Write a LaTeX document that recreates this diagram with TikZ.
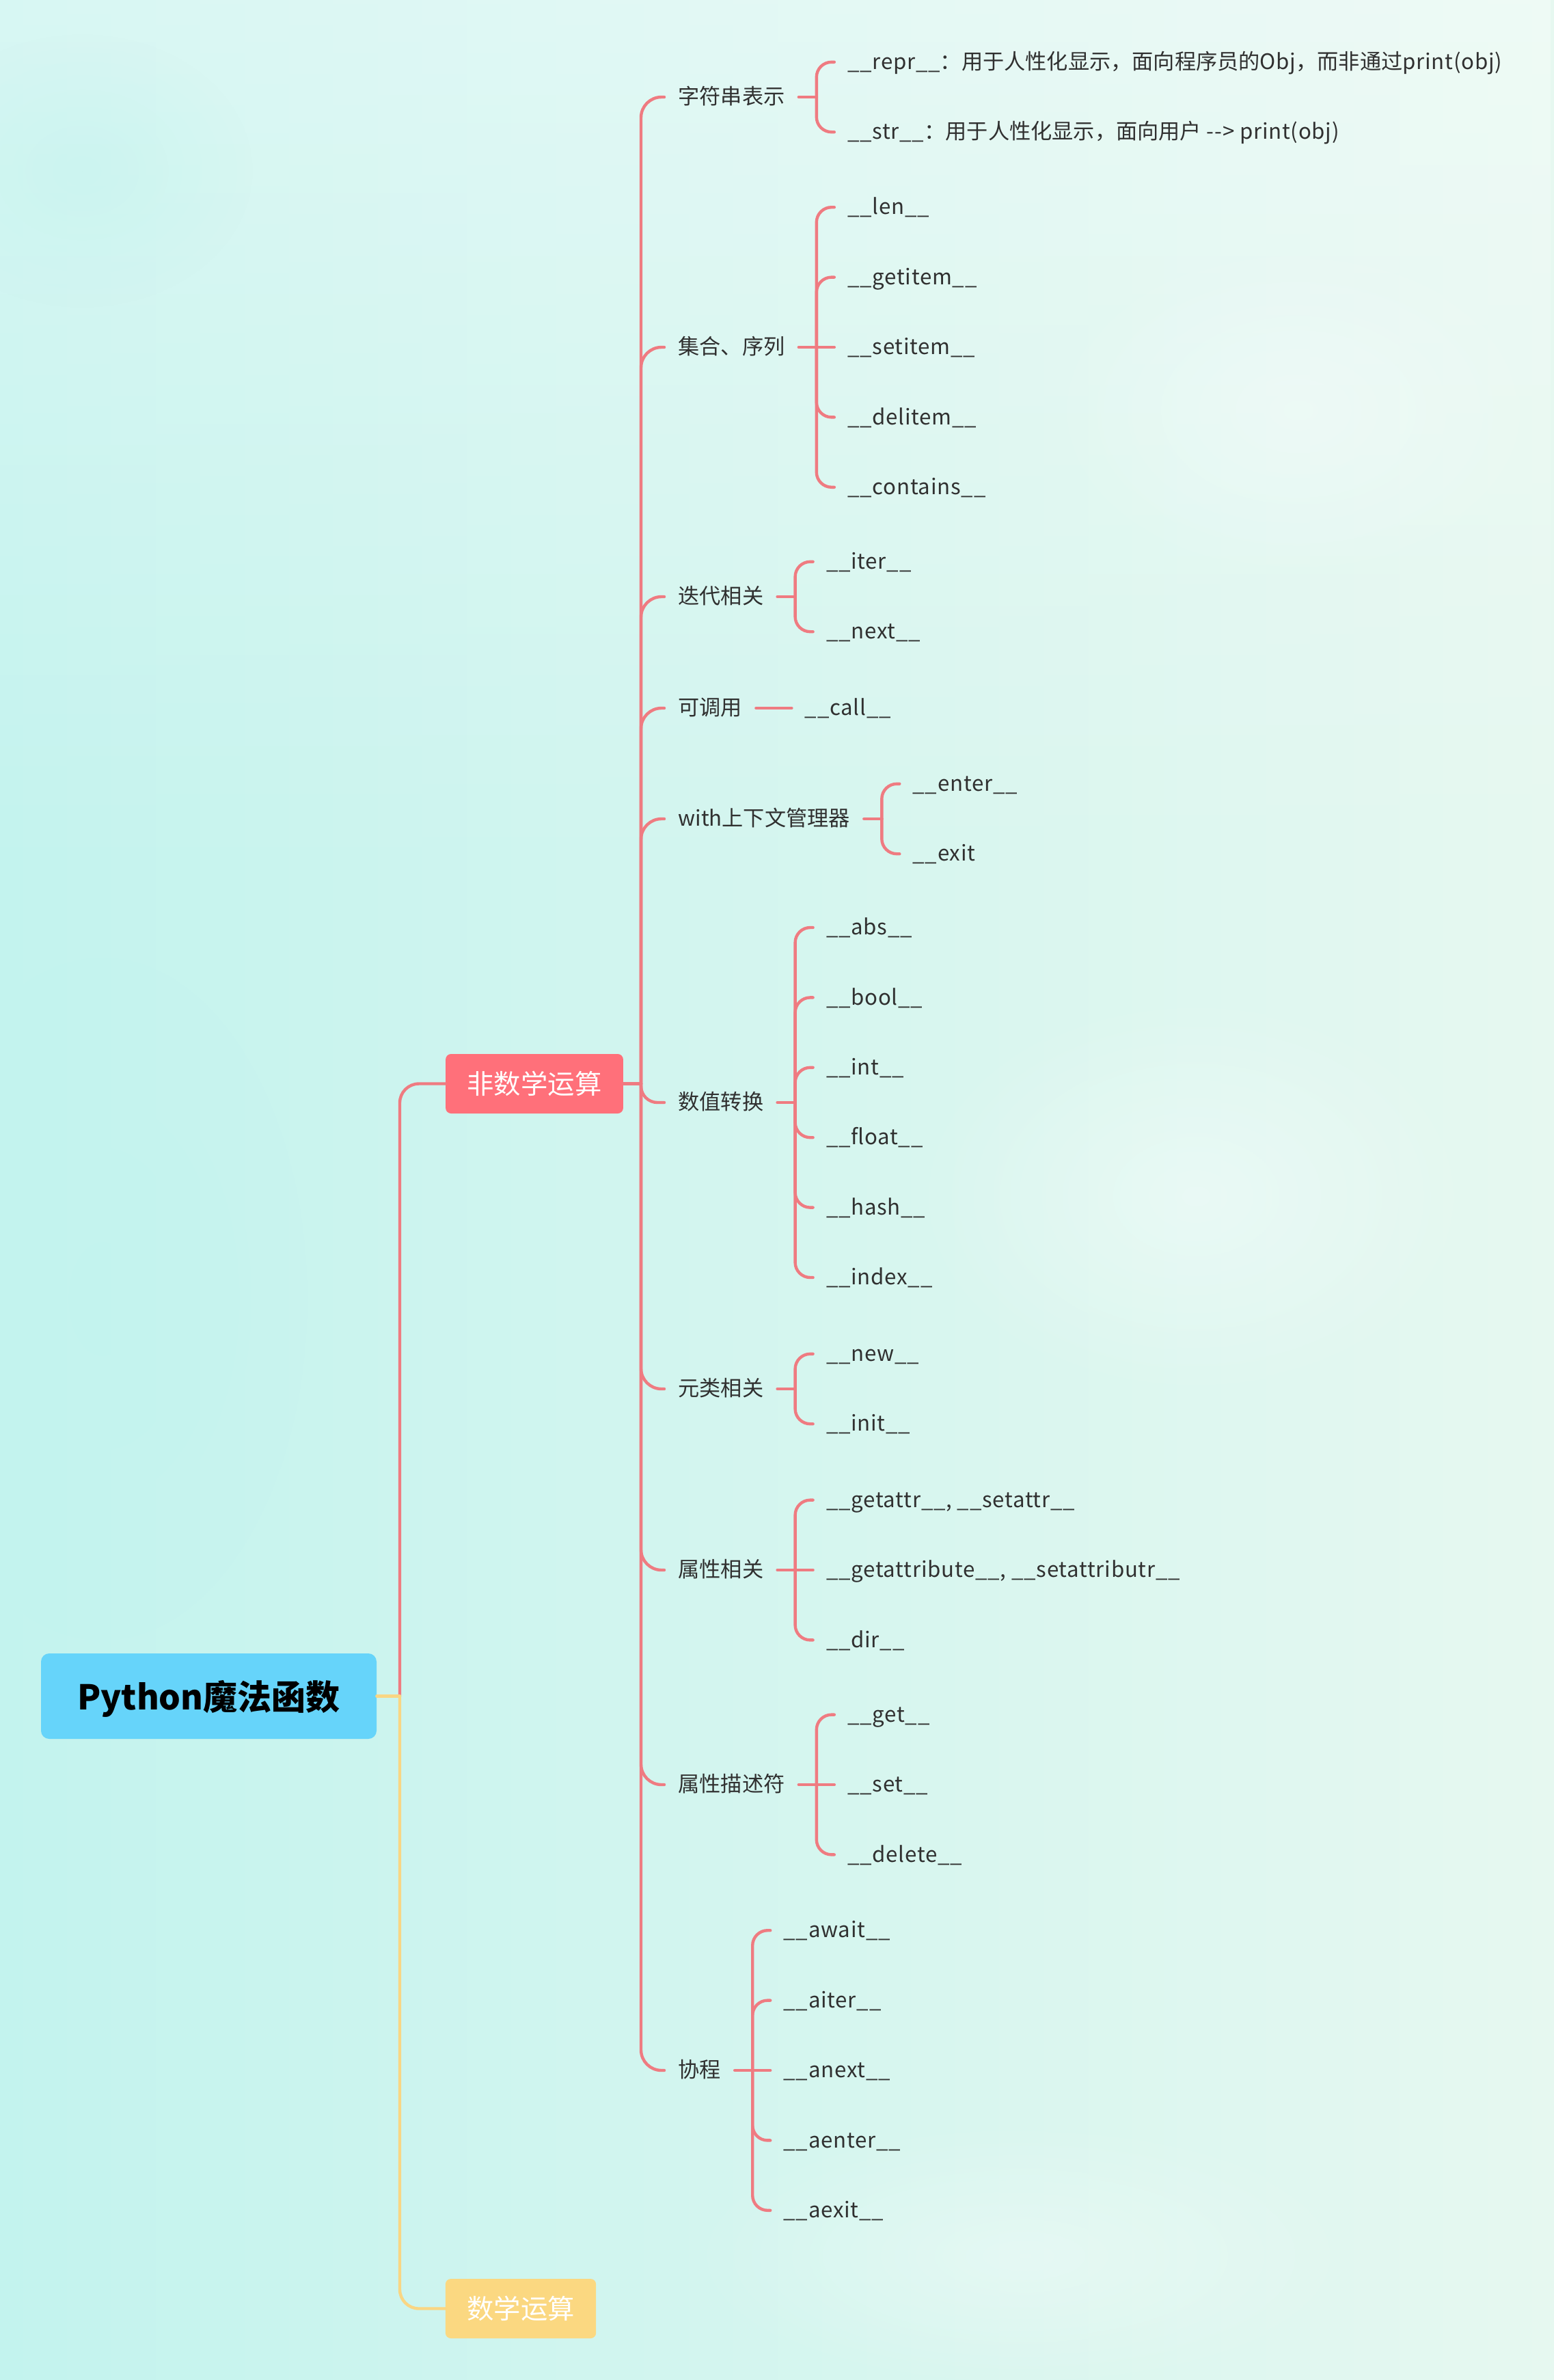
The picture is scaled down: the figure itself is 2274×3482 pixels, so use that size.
\documentclass[tikz,border=0pt]{standalone}
\usepackage{fontspec}
\setmainfont{Noto Sans CJK SC}
\newfontfamily\latfont{Noto Sans CJK SC}[LetterSpace=2.5]
\usetikzlibrary{calc,fadings}
\definecolor{rootblue}{HTML}{66D4FA}
\definecolor{boxred}{HTML}{FF707A}
\definecolor{boxyel}{HTML}{FBD881}
\definecolor{linered}{HTML}{EF7B81}
\definecolor{lineyel}{HTML}{F9D684}
\definecolor{txt}{HTML}{303030}
\definecolor{bgL}{HTML}{C3F3EE}
\definecolor{bgM}{HTML}{D8F7F2}
\definecolor{bgR}{HTML}{E6F8F0}
\tikzfading[name=blob, inner color=transparent!0, outer color=transparent!100]

\newcommand\branch[4][leaf]{%
  \draw[br] (#2.east) -- ++(26,0) coordinate (#2j);
  \foreach \t [count=\i] in {#4} {%
    \pgfmathsetmacro\dy{(\i-(#3+1)/2)*102.4}%
    \node[#1] (#2l\i) at ($(#2.east)+(52,\dy)$) {\t};
    \ifdim\dy pt=0pt
      \draw[br] (#2j) -- (#2l\i.west);
    \else
      \draw[br,rounded corners=11pt] (#2j) |- (#2l\i.west);
    \fi
  }%
}

\begin{document}
\begin{tikzpicture}[x=0.5pt,y=-0.5pt,
  br/.style={draw=linered, line width=2.2pt, line cap=round},
  yb/.style={draw=lineyel, line width=2.2pt, line cap=round},
  rootbox/.style={fill=rootblue, rounded corners=6pt, minimum width=245.5pt, minimum height=62.5pt, inner sep=0pt, text=black, font=\fontsize{25pt}{30pt}\selectfont\bfseries, text height=23.5pt, text depth=3.5pt},
  topicbox/.style={rounded corners=4pt, minimum height=43.5pt, inner xsep=15.7pt, inner ysep=0pt, text=white, font=\fontsize{19.7pt}{24pt}\selectfont, text height=17pt, text depth=2pt},
  sub/.style={anchor=west, inner xsep=10pt, inner ysep=0pt, text=txt, font=\fontsize{15.6pt}{19pt}\selectfont, text height=13pt, text depth=2.4pt},
  leaf/.style={sub, inner xsep=9.5pt},
  latleaf/.style={leaf, font=\fontsize{15.6pt}{19pt}\selectfont\latfont}]

% background
\useasboundingbox (0,0) rectangle (2274,3482);
\fill[left color=bgL, middle color=bgM, right color=bgR] (0,0) rectangle (2274,3482);
\fill[white, opacity=0.35, path fading=south] (0,0) rectangle (2274,1300);
\fill[white, opacity=0.35, path fading=blob] (1750,1750) ellipse (420 and 300);
\fill[white, opacity=0.3, path fading=blob] (1900,600) ellipse (380 and 260);
\fill[white, opacity=0.3, path fading=blob] (1500,3300) ellipse (500 and 200);
\fill[bgL, opacity=0.6, path fading=blob] (150,1900) ellipse (300 and 500);
\fill[bgL, opacity=0.5, path fading=blob] (120,250) ellipse (250 and 200);

% main nodes
\node[rootbox] (root) at (305.5,2481.5) {Python魔法函数};
\node[topicbox, fill=boxred] (nm) at (782,1585.5) {非数学运算};
\node[topicbox, fill=boxyel] (m) at (762,3377.5) {数学运算};

\coordinate (rj) at (585,2481.5);
\draw[br, rounded corners=14pt] (rj) |- (nm.west);
\draw[yb, rounded corners=14pt] (rj) |- (m.west);
\draw[yb] (root.east) -- (rj);

% level 2
\node[sub] (s1) at (972,142) {字符串表示};
\node[sub] (s2) at (972,508) {集合、序列};
\node[sub] (s3) at (972,873) {迭代相关};
\node[sub] (s4) at (972,1036) {可调用};
\node[sub] (s5) at (972,1198) {with上下文管理器};
\node[sub] (s6) at (972,1613) {数值转换};
\node[sub] (s7) at (972,2032) {元类相关};
\node[sub] (s8) at (972,2297) {属性相关};
\node[sub] (s9) at (972,2611) {属性描述符};
\node[sub] (s10) at (972,3029) {协程};

\coordinate (nmj) at (938,1585.5);
\draw[br] (nm.east) -- (nmj);
\foreach \s in {s1,s2,s3,s4,s5,s7,s8,s9,s10}
  \draw[br, rounded corners=15pt] (nmj) |- (\s.west);
\draw[br, rounded corners=12pt] (nmj) |- (s6.west);

% leaves
\branch{s1}{2}{{{\latfont\_\_repr\_\_}：用于人性化显示，面向程序员的{\latfont Obj}，而非通过{\latfont print(obj)}},{{\latfont\_\_str\_\_}：用于人性化显示，面向用户{\latfont\ -{}-> print(obj)}}}
\branch[latleaf]{s2}{5}{{\_\_len\_\_},{\_\_getitem\_\_},{\_\_setitem\_\_},{\_\_delitem\_\_},{\_\_contains\_\_}}
\branch[latleaf]{s3}{2}{{\_\_iter\_\_},{\_\_next\_\_}}
\branch[latleaf]{s4}{1}{{\_\_call\_\_}}
\branch[latleaf]{s5}{2}{{\_\_enter\_\_},{\_\_exit}}
\branch[latleaf]{s6}{6}{{\_\_abs\_\_},{\_\_bool\_\_},{\_\_int\_\_},{\_\_float\_\_},{\_\_hash\_\_},{\_\_index\_\_}}
\branch[latleaf]{s7}{2}{{\_\_new\_\_},{\_\_init\_\_}}
\branch[latleaf]{s8}{3}{{\_\_getattr\_\_, \_\_setattr\_\_},{\_\_getattribute\_\_, \_\_setattributr\_\_},{\_\_dir\_\_}}
\branch[latleaf]{s9}{3}{{\_\_get\_\_},{\_\_set\_\_},{\_\_delete\_\_}}
\branch[latleaf]{s10}{5}{{\_\_await\_\_},{\_\_aiter\_\_},{\_\_anext\_\_},{\_\_aenter\_\_},{\_\_aexit\_\_}}

\end{tikzpicture}
\end{document}
